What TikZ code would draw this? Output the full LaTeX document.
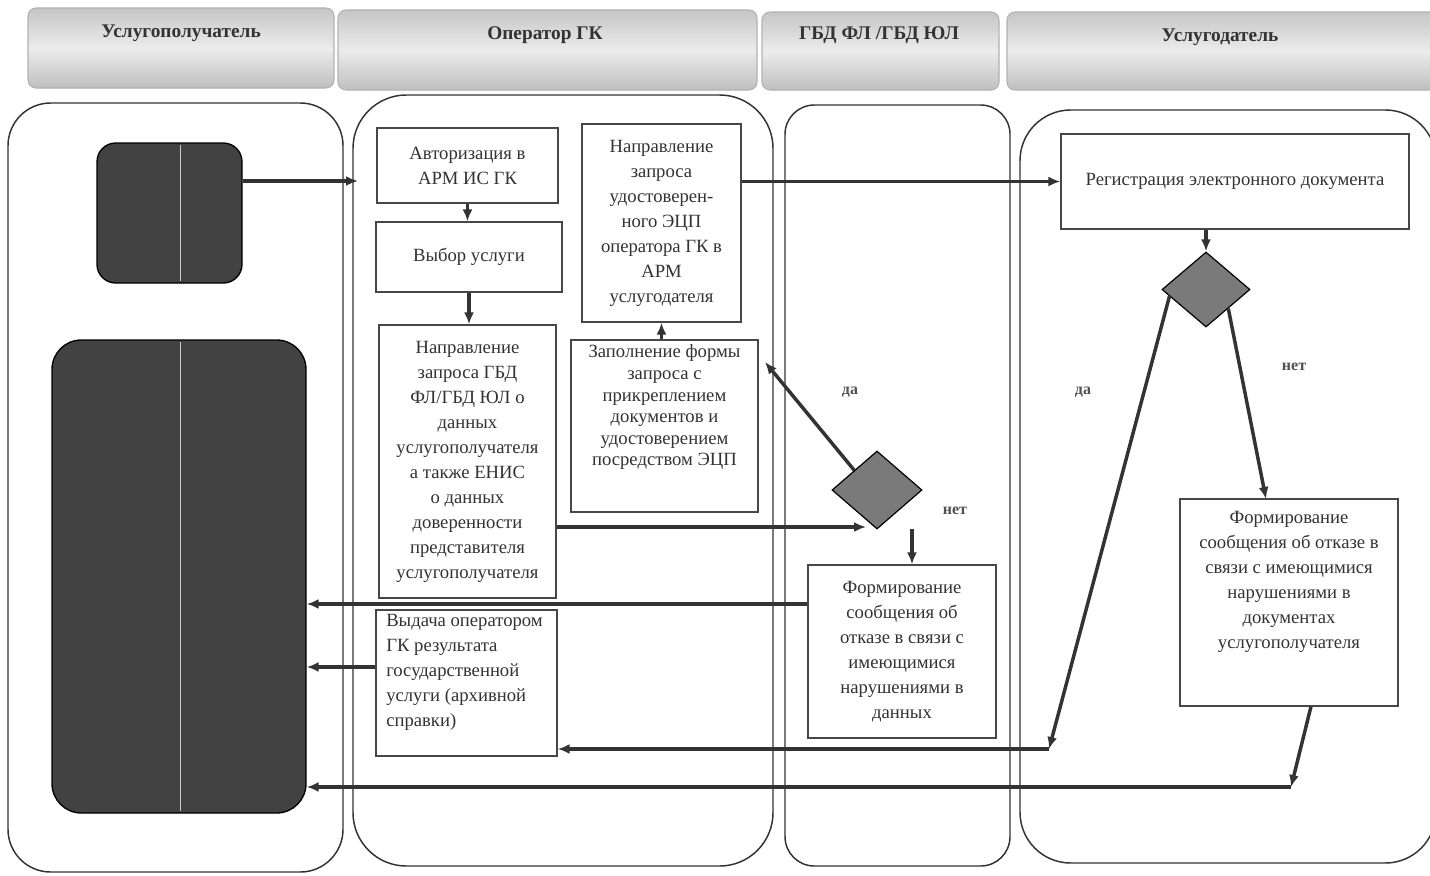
\documentclass[tikz,border=0pt]{standalone}
\usepackage{fontspec}
\setmainfont{Liberation Serif}
\usetikzlibrary{shapes.geometric,arrows.meta,calc}
\definecolor{ln}{HTML}{333333}
\begin{document}
\begin{tikzpicture}[x=0.75pt,y=-0.75pt,
  lane/.style={draw=ln, line width=1.1pt},
  hdr/.style={draw=gray!60, line width=0.8pt, top color=gray!45, bottom color=gray!50, middle color=gray!15, rounded corners=6pt},
  htxt/.style={font=\fontsize{14.5}{17}\selectfont\bfseries, text=ln, inner sep=0pt},
  box/.style={draw=ln!90, line width=1pt, fill=white, inner sep=0pt, align=center, text=ln, font=\fontsize{14}{18.75}\selectfont},
  txt/.style={inner sep=0pt, text=ln, font=\fontsize{14}{18.75}\selectfont},
  dark/.style={draw=black, line width=1pt, fill=black!74},
  dec/.style={diamond, draw=black, line width=0.9pt, fill=black!52, inner sep=0pt},
  arr/.style={draw=ln, line width=2.6pt, -{Latex[length=9pt,width=7.5pt]}},
  lbl/.style={inner sep=0pt, text=ln!85, font=\fontsize{12}{14}\selectfont\bfseries}
]
\useasboundingbox (0,0) rectangle (1430,875);
\fill[white] (0,0) rectangle (1430,875);

% headers
\path[hdr] (28,8) rectangle (334,88);
\path[hdr] (338,10) rectangle (757,90);
\path[hdr] (762,12) rectangle (999,90);
\path[hdr] (1007,12) rectangle (1445,90);
\node[htxt] (h1t) at (181,33) {Услугополучатель};
\node[htxt] (h2t) at (545,35) {Оператор ГК};
\node[htxt] (h3t) at (879,35) {ГБД ФЛ /ГБД ЮЛ};
\node[htxt] (h4t) at (1220,37) {Услугодатель};

% lanes
\draw[lane, rounded corners=32pt] (8,103) rectangle (343,872);
\draw[lane, rounded corners=40pt] (353,95) rectangle (773,866);
\draw[lane, rounded corners=22pt] (785,105) rectangle (1010,866);
\draw[lane, rounded corners=38pt] (1020,110) rectangle (1436,863);

% service recipient boxes
\node[dark, rounded corners=14pt, minimum width=108.75pt, minimum height=105pt] (small) at (169.5,213) {};
\node[dark, rounded corners=22pt, minimum width=190.5pt, minimum height=354.75pt] (large) at (179,576.5) {};
\draw[white!80!black, line width=0.5pt] (180,145) -- (180,281);
\draw[white!80!black, line width=0.5pt] (180,342) -- (180,811);

% operator boxes
\node[box, minimum width=135.75pt, minimum height=56.25pt] (auth) at (467.5,165.5) {Авторизация в\\АРМ ИС ГК};
\node[box, minimum width=139.5pt, minimum height=52.5pt] (vybor) at (469,257) {Выбор услуги};
\node[box, minimum width=132.75pt, minimum height=204.75pt] (napr1) at (467.5,461.5) {Направление\\запроса ГБД\\ФЛ/ГБД ЮЛ о\\данных\\услугополучателя\\а также ЕНИС\\о данных\\доверенности\\представителя\\услугополучателя};
\node[box, minimum width=119.25pt, minimum height=148.5pt] (napr2) at (661.5,223) {Направление\\запроса\\удостоверен-\\ного ЭЦП\\оператора ГК в\\АРМ\\услугодателя};
\node[box, minimum width=140.25pt, minimum height=129pt] (zapoln) at (664.5,426) {};
\node[txt, align=center, font=\fontsize{14}{16.2}\selectfont] (zapolnT) at (664.5,407.5) {Заполнение формы\\запроса с\\прикреплением\\документов и\\удостоверением\\посредством ЭЦП};
\node[box, minimum width=135.75pt, minimum height=109.5pt] (vydacha) at (466.5,683) {};
\node[txt, align=left, anchor=west] (vydachaT) at (386,672) {Выдача оператором\\ГК результата\\государственной\\услуги (архивной\\справки)};

% GBD lane
\node[dec, minimum width=67.5pt, minimum height=58.5pt] (d1) at (877,490) {};
\node[box, minimum width=141pt, minimum height=129.75pt] (form1) at (902,651.5) {Формирование\\сообщения об\\отказе в связи с\\имеющимися\\нарушениями в\\данных};
\node[lbl] (da1) at (850,392) {да};
\node[lbl] (net1) at (955,511) {нет};

% service provider lane
\node[box, minimum width=261pt, minimum height=71.25pt] (registr) at (1235,181.5) {Регистрация электронного документа};
\node[dec, minimum width=66pt, minimum height=56.25pt] (d2) at (1206,289.5) {};
\node[box, minimum width=163.5pt, minimum height=155.25pt] (form2) at (1289,602.5) {};
\node[txt, align=center] (form2T) at (1289,582) {Формирование\\сообщения об отказе в\\связи с имеющимися\\нарушениями в\\документах\\услугополучателя};
\node[lbl] (da2) at (1083,392) {да};
\node[lbl] (net2) at (1294,367) {нет};

% connectors
\coordinate (h1) at (358,181);
\draw[arr] (small.east |- h1) -- (h1);
\draw[arr] (auth.south) -- (auth.south |- vybor.north);
\draw[arr] (vybor.south) -- (vybor.south |- napr1.north);
\coordinate (d1in) at (866,527);
\draw[arr] (napr1.east |- d1in) -- (d1in);
\coordinate (zin) at (765,362);
\draw[arr] (d1.north west) -- (zin);
\draw[arr] (zapoln.north -| napr2.south) -- (napr2.south);
\draw[arr] (napr2.east |- registr.west) -- (registr.west);
\coordinate (n1) at (912,529);
\draw[arr] (n1) -- (n1 |- form1.north);
\coordinate (y604) at (0,604);
\draw[arr] (form1.west |- y604) -- (large.east |- y604);
\coordinate (y667) at (0,667);
\draw[arr] (vydacha.west |- y667) -- (large.east |- y667);
\draw[arr] (registr.south -| d2.north) -- (d2.north);
\coordinate (f2in) at (1266,499);
\draw[arr] (d2.south east) -- (f2in);
\coordinate (c1) at (1049,749);
\draw[arr] ($(d2.west)!0.18!(d2.south)$) -- (c1);
\draw[arr] (c1) -- (vydacha.east |- c1);
\coordinate (c2) at (1291,787);
\draw[arr] ($(form2.south west)!0.6!(form2.south east)$) -- (c2);
\draw[arr] (c2) -- (large.east |- c2);
\end{tikzpicture}
\end{document}
